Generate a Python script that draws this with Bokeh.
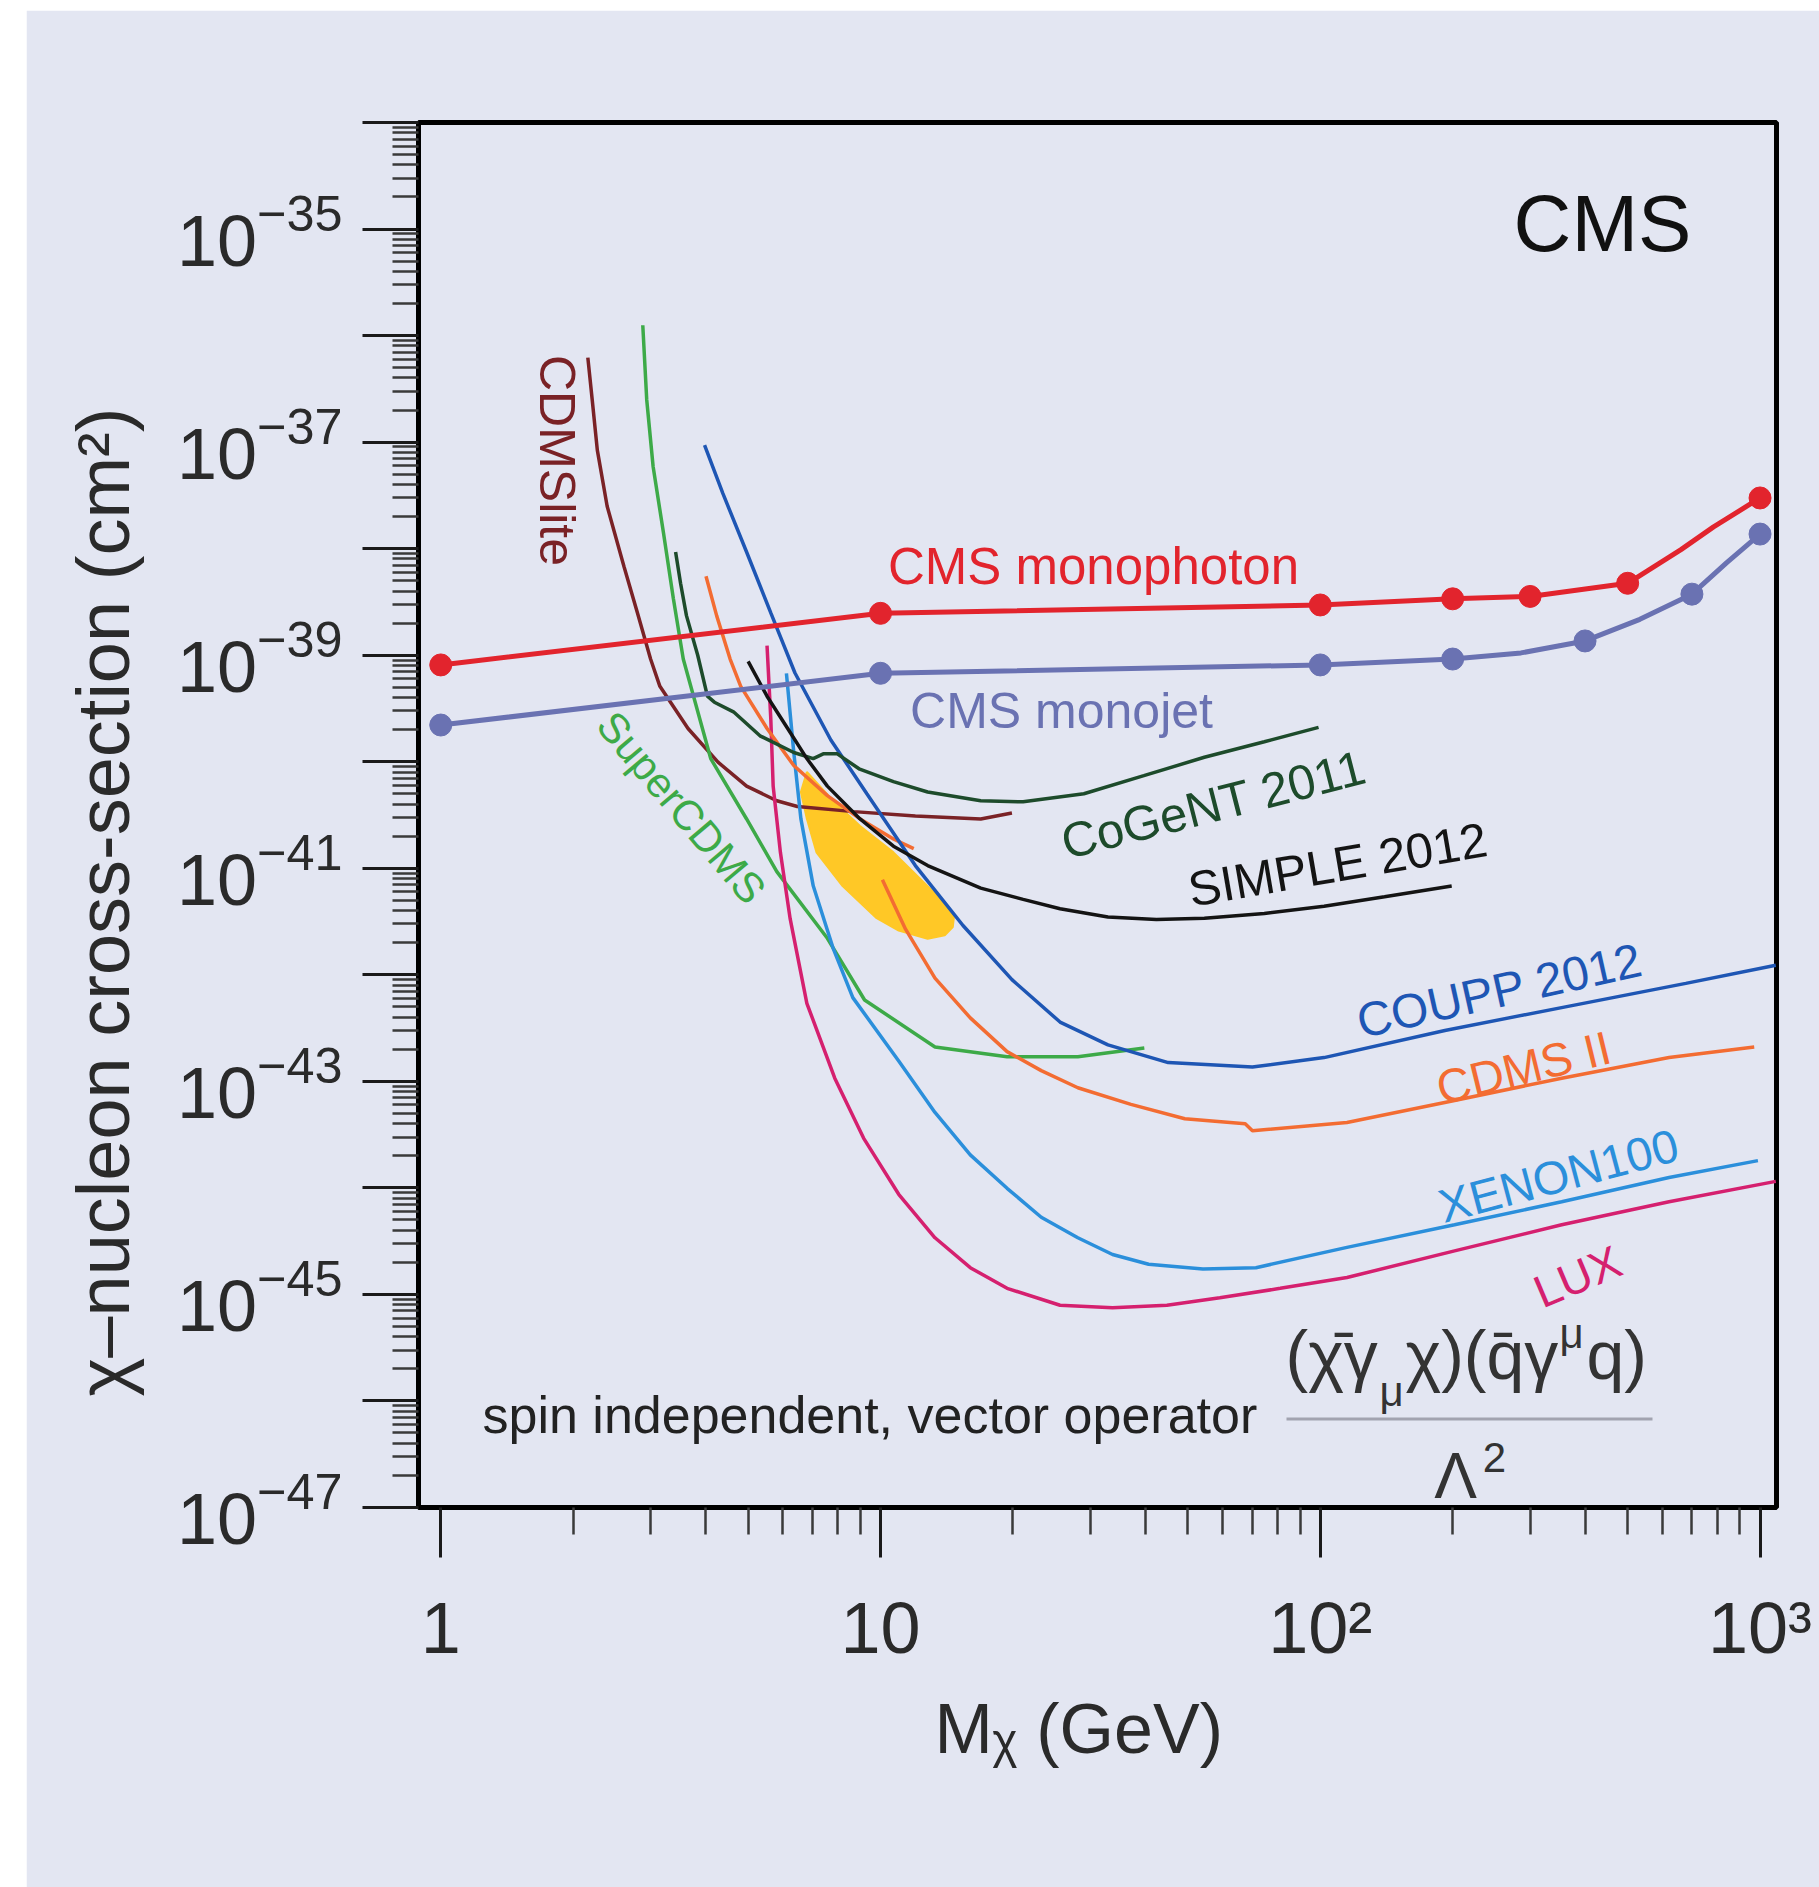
import math
from bokeh.plotting import figure
from bokeh.models import FixedTicker, LogTickFormatter, Label, BoxAnnotation, Range1d, Title
from bokeh.embed import file_html
from bokeh.resources import INLINE

# ---------------- data ----------------
x_major_ticks = [1.0, 10.0, 100.0, 1000.0]
x_tick_labels = ["1", "10", "10\u00b2", "10\u00b3"]
y_decades = list(range(-47, -33))
y_labelled_decades = [-47, -45, -43, -41, -39, -37, -35]

monophoton_mass = [1, 10, 100, 200, 300, 500, 1000]
monophoton_xsec = [8.1e-40, 2.47e-39, 2.96e-39, 3.38e-39, 3.56e-39, 4.73e-39, 2.99e-38]
monophoton_curve_mass = [1, 10, 100, 200, 300, 500, 661, 784, 1000]
monophoton_curve_xsec = [8.1e-40, 2.47e-39, 2.96e-39, 3.38e-39, 3.56e-39, 4.73e-39, 9.8e-39, 1.6e-38, 2.99e-38]

monojet_mass = [1, 10, 100, 200, 400, 700, 1000]
monojet_xsec = [2.21e-40, 6.76e-40, 8.1e-40, 9.2e-40, 1.36e-39, 3.74e-39, 1.37e-38]
monojet_curve_mass = [1, 10, 100, 200, 286, 400, 533, 700, 840, 1000]
monojet_curve_xsec = [2.21e-40, 6.76e-40, 8.1e-40, 9.2e-40, 1.05e-39, 1.36e-39, 2.17e-39, 3.74e-39, 7.4e-39, 1.37e-38]

cdmslite_mass = [2.16, 2.21, 2.27, 2.39, 2.61, 2.80, 3.00, 3.15, 3.65, 4.27, 4.96, 5.81, 6.47, 8.69, 12.0, 16.9, 19.9]
cdmslite_xsec = [6.2e-37, 2.5e-37, 8.4e-38, 2.5e-38, 6.8e-39, 2.5e-39, 9.2e-40, 5.1e-40, 2.05e-40, 9.9e-41, 5.9e-41, 4.3e-41, 3.8e-41, 3.4e-41, 3.1e-41, 2.9e-41, 3.3e-41]

supercdms_mass = [2.88, 2.94, 3.04, 3.21, 3.38, 3.56, 4.11, 4.96, 5.81, 7.57, 9.2, 13.3, 19.4, 28.1, 39.8]
supercdms_xsec = [1.25e-36, 2.5e-37, 5.9e-38, 1.4e-38, 3.4e-39, 9.2e-40, 1.07e-40, 2.9e-41, 9.3e-42, 2.2e-42, 5.8e-43, 2.1e-43, 1.7e-43, 1.7e-43, 2.05e-43]

cogent_mass = [3.42, 3.51, 3.62, 3.84, 4.04, 4.19, 4.63, 5.32, 6.35, 7.03, 7.43, 7.96, 8.97, 10.7, 12.8, 16.9, 21.1, 29.0, 39.7, 54.5, 74.6, 99.1]
cogent_xsec = [9.3e-39, 4.73e-39, 2.35e-39, 9.98e-40, 4.12e-40, 3.62e-40, 2.94e-40, 1.75e-40, 1.22e-40, 1.07e-40, 1.19e-40, 1.19e-40, 8.5e-41, 6.5e-41, 5.2e-41, 4.3e-41, 4.2e-41, 5.0e-41, 7.4e-41, 1.1e-40, 1.54e-40, 2.1e-40]

simple_mass = [5.00, 5.52, 6.15, 6.80, 7.57, 8.97, 10.7, 12.8, 16.9, 21.1, 25.6, 32.9, 42.4, 54.5, 74.6, 102, 140, 199]
simple_xsec = [8.75e-40, 4.12e-40, 2.05e-40, 1.07e-40, 5.9e-41, 2.92e-41, 1.61e-41, 1.06e-41, 6.5e-42, 5.1e-42, 4.17e-42, 3.48e-42, 3.3e-42, 3.39e-42, 3.76e-42, 4.4e-42, 5.4e-42, 6.8e-42]

coupp_mass = [3.98, 4.38, 4.97, 5.63, 6.39, 7.71, 9.31, 12.0, 15.4, 19.9, 25.6, 32.9, 45.1, 70.1, 102, 192, 361, 678, 1086]
coupp_xsec = [9.35e-38, 3.3e-38, 9.1e-39, 2.5e-39, 6.8e-40, 1.6e-40, 5.0e-41, 1.06e-41, 2.9e-42, 9.0e-43, 3.6e-43, 2.2e-43, 1.5e-43, 1.36e-43, 1.67e-43, 3.0e-43, 5.0e-43, 8.3e-43, 1.23e-42]

cdms2_lowmass_mass = [4.01, 4.24, 4.55, 4.81, 5.52, 6.35, 7.57, 8.97, 10.7, 11.9]
cdms2_lowmass_xsec = [5.5e-39, 2.35e-39, 9.2e-40, 5.1e-40, 2.05e-40, 9.2e-41, 4.8e-41, 2.92e-41, 1.88e-41, 1.53e-41]

cdms2_mass = [10.1, 11.4, 13.3, 16.0, 19.4, 23.2, 28.1, 37.1, 49.2, 67.5, 70.1, 115, 202, 354, 621, 970]
cdms2_xsec = [7.8e-42, 2.68e-42, 9.3e-43, 3.94e-43, 1.9e-43, 1.26e-43, 8.7e-44, 6.07e-44, 4.45e-44, 4.0e-44, 3.43e-44, 4.1e-44, 6.6e-44, 1.07e-43, 1.67e-43, 2.1e-43]

xenon_mass = [6.11, 6.35, 6.59, 7.03, 7.82, 8.65, 11.0, 13.3, 16.0, 19.4, 23.2, 28.1, 33.7, 40.7, 54.1, 71.4, 115, 202, 354, 621, 989]
xenon_xsec = [6.76e-40, 1.22e-40, 2.92e-41, 6.84e-42, 1.73e-42, 6.1e-43, 1.55e-43, 5.1e-44, 2.04e-44, 9.9e-45, 5.3e-45, 3.4e-45, 2.37e-45, 1.92e-45, 1.73e-45, 1.78e-45, 2.76e-45, 4.5e-45, 7.4e-45, 1.25e-44, 1.8e-44]

lux_mass = [5.52, 5.63, 5.70, 5.92, 6.23, 6.80, 7.87, 9.15, 11.0, 13.3, 16.0, 19.4, 25.6, 33.7, 44.8, 59.1, 81.1, 115, 202, 354, 621, 1086]
lux_xsec = [1.23e-39, 2.52e-40, 5.9e-41, 1.41e-41, 3.36e-42, 5.4e-43, 1.07e-43, 2.93e-44, 8.7e-45, 3.4e-45, 1.78e-45, 1.14e-45, 7.9e-46, 7.5e-46, 7.9e-46, 9.3e-46, 1.14e-45, 1.44e-45, 2.56e-45, 4.5e-45, 7.4e-45, 1.15e-44]

signal_region_mass = [6.80, 7.8, 8.97, 10.7, 12.8, 14.0, 14.7, 14.6, 14.0, 12.8, 11.0, 9.8, 8.2, 7.15, 6.80, 6.59]
signal_region_xsec = [8.0e-41, 4.3e-41, 2.5e-41, 1.41e-41, 6.8e-42, 4.7e-42, 3.6e-42, 2.8e-42, 2.35e-42, 2.18e-42, 2.6e-42, 3.4e-42, 6.8e-42, 1.41e-41, 2.92e-41, 5.2e-41]

# ---------------- style ----------------
BG = "#E3E6F2"
RED = "#E2242D"
PURPLE = "#6A72B2"
MAROON = "#7A2226"
GREEN = "#3DAA48"
DKGREEN = "#1D4B2B"
BLACK = "#141414"
BLUE = "#1E56B4"
ORANGE = "#F36C32"
LTBLUE = "#2B8FDB"
MAGENTA = "#D5206F"
YELLOW = "#FFC826"
TXT = "#2a2a2a"
REG = "Liberation Sans"

p = figure(width=1793, height=1877, x_axis_type="log", y_axis_type="log",
           x_range=Range1d(0.89, 1090), y_range=Range1d(0.999e-47, 1e-34),
           output_backend="svg", toolbar_location=None,
           min_border_left=392, min_border_right=43, min_border_top=112, min_border_bottom=380)
p.margin = (10, 0, 0, 26)
p.background_fill_color = BG
p.border_fill_color = BG
p.outline_line_color = "black"
p.outline_line_width = 5
p.grid.visible = False

# axes
y_major = [10.0 ** e for e in y_decades]
y_minor = [k * 10.0 ** e for e in y_decades[:-1] for k in range(2, 10)]
p.yaxis.ticker = FixedTicker(ticks=y_major, minor_ticks=y_minor)
p.yaxis.formatter = LogTickFormatter()
p.yaxis.major_label_overrides = {t: "" for t, e in zip(y_major, y_decades) if e not in y_labelled_decades}
x_minor = [k * 10.0 ** e for e in range(0, 3) for k in range(2, 10)]
p.xaxis.ticker = FixedTicker(ticks=x_major_ticks, minor_ticks=x_minor)
p.xaxis.major_label_overrides = dict(zip(x_major_ticks, x_tick_labels))

for ax in (p.xaxis[0], p.yaxis[0]):
    ax.axis_line_color = None
    ax.major_tick_in = 0
    ax.minor_tick_in = 0
    ax.major_tick_line_color = "#1a1a1a"
    ax.major_tick_line_width = 3
    ax.minor_tick_line_color = "#3a3a3a"
    ax.minor_tick_line_width = 2.5
    ax.major_label_text_font = REG
    ax.major_label_text_color = TXT
    ax.major_label_text_font_size = "72px"
p.yaxis.major_tick_out = 56
p.yaxis.minor_tick_out = 26
p.yaxis.major_label_standoff = 20
p.xaxis.major_tick_out = 50
p.xaxis.minor_tick_out = 27
p.xaxis.major_label_standoff = 30

# axis titles
p.add_layout(Title(text="\u03c7\u2013nucleon cross-section (cm\u00b2)", align="left", offset=111,
                   standoff=58, text_font=REG, text_font_size="74px", text_font_style="normal",
                   text_color=TXT), "left")
p.add_layout(Title(text="M\u1d6a (GeV)", align="left", offset=516, standoff=34,
                   text_font=REG, text_font_size="70px", text_font_style="normal",
                   text_color=TXT), "below")

# signal region and limit curves
p.patch(signal_region_mass, signal_region_xsec, fill_color=YELLOW, line_color=YELLOW, line_width=2)
curve_w = 3.5
p.line(cdmslite_mass, cdmslite_xsec, line_color=MAROON, line_width=curve_w)
p.line(supercdms_mass, supercdms_xsec, line_color=GREEN, line_width=curve_w)
p.line(lux_mass, lux_xsec, line_color=MAGENTA, line_width=curve_w)
p.line(xenon_mass, xenon_xsec, line_color=LTBLUE, line_width=curve_w)
p.line(cdms2_lowmass_mass, cdms2_lowmass_xsec, line_color=ORANGE, line_width=curve_w)
p.line(cdms2_mass, cdms2_xsec, line_color=ORANGE, line_width=curve_w)
p.line(coupp_mass, coupp_xsec, line_color=BLUE, line_width=curve_w)
p.line(cogent_mass, cogent_xsec, line_color=DKGREEN, line_width=curve_w)
p.line(simple_mass, simple_xsec, line_color=BLACK, line_width=curve_w)

p.line(monojet_curve_mass, monojet_curve_xsec, line_color=PURPLE, line_width=5)
p.scatter(monojet_mass, monojet_xsec, size=22, color=PURPLE)
p.line(monophoton_curve_mass, monophoton_curve_xsec, line_color=RED, line_width=5)
p.scatter(monophoton_mass, monophoton_xsec, size=22, color=RED)

# ---------------- annotations (frame-relative screen px) ----------------
def lab(text, sx, sy, color, size, angle=0.0, align="center"):
    p.add_layout(Label(x=sx, y=sy, x_units="screen", y_units="screen", text=text,
                       text_color=color, text_font=REG, text_font_size=f"{size}px",
                       angle=angle, text_align=align, text_baseline="middle"))

lab("CMS", 1184, 1284, "#111111", 80)
lab("CMS monophoton", 675, 941, RED, 51)
lab("CMS monojet", 643, 797, PURPLE, 50)
lab("CDMSlite", 138, 1047, MAROON, 50, angle=-math.pi / 2)
lab("SuperCDMS", 263, 700, GREEN, 42, angle=-0.87)
lab("CoGeNT 2011", 795, 703, DKGREEN, 49, angle=0.25)
lab("SIMPLE 2012", 919, 643, BLACK, 49, angle=0.17)
lab("COUPP 2012", 1081, 517, BLUE, 48, angle=0.22)
lab("CDMS II", 1105, 440, ORANGE, 47, angle=0.24)
lab("XENON100", 1140, 332, LTBLUE, 47, angle=0.26)
lab("LUX", 1159, 231, MAGENTA, 46, angle=0.40)

lab("spin independent, vector operator", 64, 93, "#222222", 52, align="left")
# operator fraction
lab("(\u03c7\u0304\u03b3", 867, 153, "#333333", 68, align="left")
lab("\u03bc", 961, 116, "#333333", 42, align="left")
lab("\u03c7)(q\u0304\u03b3", 987, 153, "#333333", 68, align="left")
lab("\u03bc", 1141, 174, "#333333", 42, align="left")
lab("q)", 1168, 153, "#333333", 68, align="left")
p.add_layout(BoxAnnotation(left=868, right=1234, bottom=87, top=90,
                           left_units="screen", right_units="screen",
                           bottom_units="screen", top_units="screen",
                           fill_color="#A2A3B0", fill_alpha=1.0, line_color=None))
lab("\u039b", 1037, 32, "#333333", 64)
lab("2", 1076, 50, "#333333", 42)

open("out.html", "w").write(file_html(p, INLINE))
